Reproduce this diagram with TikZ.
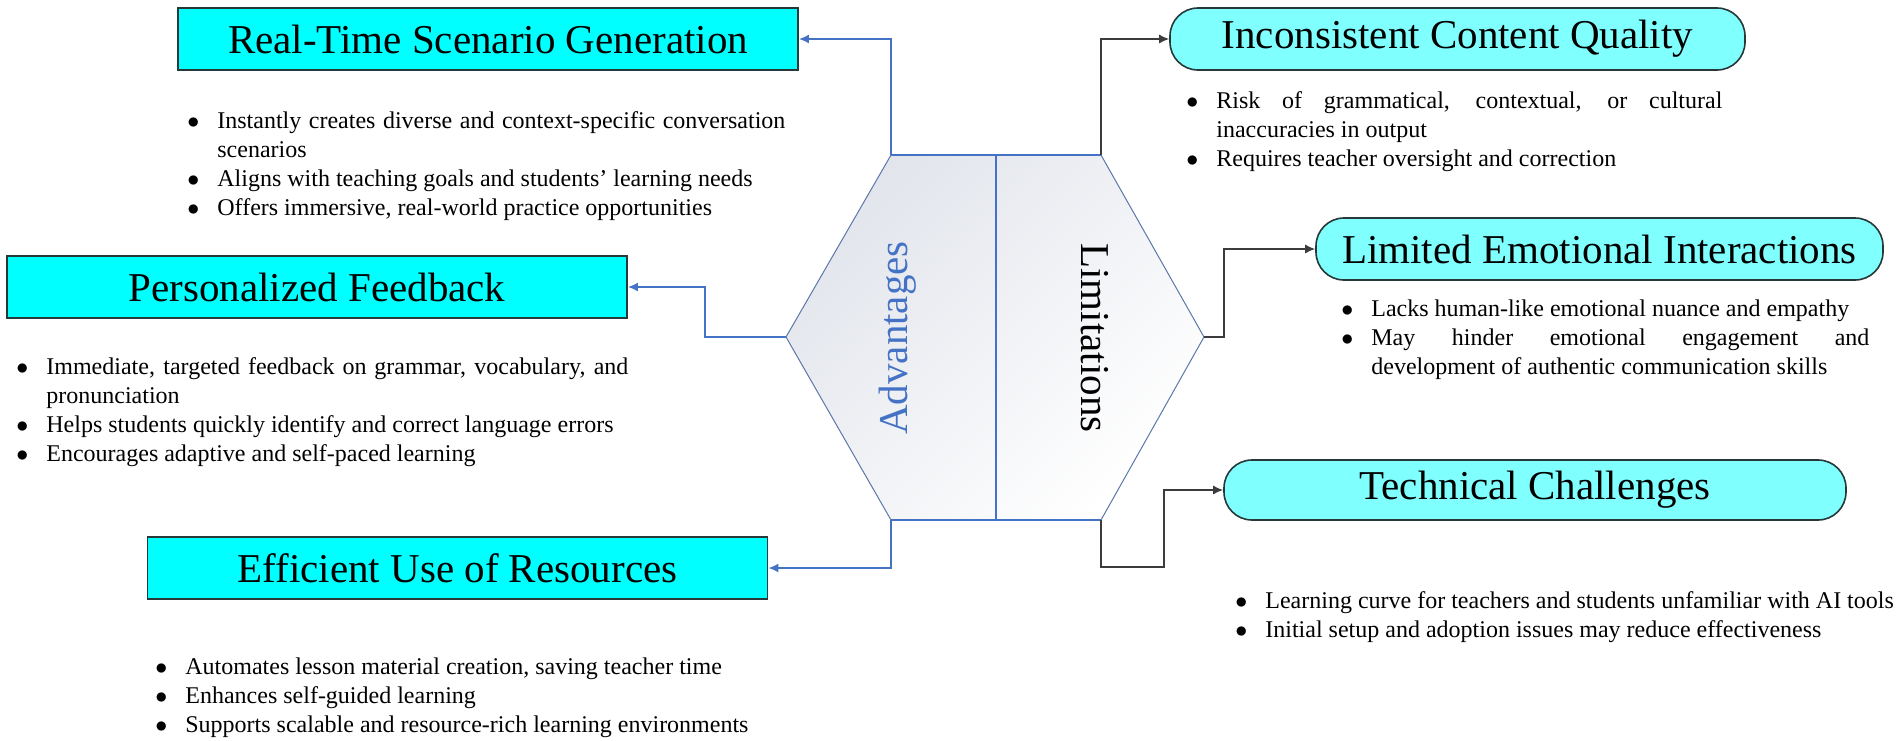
\documentclass[tikz,border=0pt]{standalone}
\usepackage{fontspec}
\setmainfont{Liberation Serif}
\usetikzlibrary{arrows.meta}
\definecolor{advfill}{RGB}{0,255,255}
\definecolor{limfill}{RGB}{128,255,255}
\definecolor{bord}{RGB}{38,56,56}
\definecolor{conb}{RGB}{68,114,196}
\definecolor{cond}{RGB}{60,60,60}
\definecolor{hexg}{RGB}{226,229,236}
\newcommand{\titlefnt}{\fontsize{20.5pt}{24pt}\selectfont}
\newcommand{\listfnt}{\fontsize{12pt}{14.5pt}\selectfont}
\newcommand{\itm}[1]{\par\noindent\hangindent=15pt\hangafter=1\makebox[15pt][l]{$\bullet$}\strut #1\par}
\tikzset{
  advbox/.style={rectangle, draw=bord, line width=0.9pt, fill=advfill,
                 minimum width=310pt, minimum height=31pt, inner sep=0pt, font=\titlefnt},
  limbox/.style={rectangle, rounded corners=14pt, draw=bord, line width=0.8pt, fill=limfill,
                 minimum height=31pt, inner sep=0pt, font=\titlefnt},
  % bullet block, #1 = text width
  blist/.style={anchor=north west, inner sep=0pt, text width=#1, align=justify, font=\listfnt},
  ar/.style={-{Latex[length=5pt,width=4.5pt]}, line width=0.9pt, draw=conb},
  arl/.style={-{Latex[length=5pt,width=4.5pt]}, line width=0.7pt, draw=cond},
  hexl/.style={draw=conb!60!gray, line width=0.5pt},
  vlbl/.style={font=\titlefnt}
}

\begin{document}
\begin{tikzpicture}[x=0.5pt, y=-0.5pt]
    \useasboundingbox (0,0) rectangle (1902,740);

    % central hexagon
    \coordinate (hTL) at (891,155);
    \coordinate (hTR) at (1101,155);
    \coordinate (hR) at (1204,337);
    \coordinate (hBR) at (1101,520);
    \coordinate (hBL) at (891,520);
    \coordinate (hL) at (786,337);
    \coordinate (dvt) at (996,155);
    \coordinate (dvb) at (996,520);
    \shade[top color=hexg, bottom color=white, shading angle=45]
      (hTL) -- (hTR) -- (hR) -- (hBR) -- (hBL) -- (hL) -- cycle;
    \draw[hexl] (hTL) -- (hTR) -- (hR) -- (hBR) -- (hBL) -- (hL) -- cycle;
    \draw[conb, line width=0.8pt] (hTL) -- (hTR) (hBL) -- (hBR);
    \draw[conb, line width=1.4pt] (dvt) -- (dvb);
    \node[vlbl, text=conb, rotate=90] (advl) at (898,338) {Advantages};
    \node[vlbl, rotate=-90] (liml) at (1095,338) {Limitations};

    % advantages
    \node[advbox] (rtbox) at (488,39) {Real-Time Scenario Generation};
    \node[blist=299pt] (rtlist) at (187,99) {%
      \itm{Instantly creates diverse and context-specific conversation scenarios}
      \itm{Aligns with teaching goals and students' learning needs}
      \itm{Offers immersive, real-world practice opportunities}};
    \node[advbox] (pfbox) at (317,287) {Personalized Feedback};
    \node[blist=306pt] (pflist) at (16,345) {%
      \itm{Immediate, targeted feedback on grammar, vocabulary, and pronunciation}
      \itm{Helps students quickly identify and correct language errors}
      \itm{Encourages adaptive and self-paced learning}};
    \node[advbox] (eubox) at (457.5,568) {Efficient Use of Resources};
    \node[blist=300pt] (eulist) at (155,645) {%
      \itm{Automates lesson material creation, saving teacher time}
      \itm{Enhances self-guided learning}
      \itm{Supports scalable and resource-rich learning environments}};

    % limitations
    \node[limbox, minimum width=287.5pt] (icbox) at (1457.5,39) {Inconsistent Content Quality};
    \node[blist=268pt] (iclist) at (1186,79) {%
      \itm{Risk of grammatical, contextual, or cultural\linebreak inaccuracies in output}
      \itm{Requires teacher oversight and correction}};
    \node[limbox, minimum width=283.5pt] (lebox) at (1599.5,249) {Limited Emotional Interactions};
    \node[blist=264pt] (lelist) at (1341,287) {%
      \itm{Lacks human-like emotional nuance and empathy}
      \itm{May hinder emotional engagement and\linebreak development of authentic communication skills}};
    \node[limbox, minimum width=311pt, minimum height=30pt] (tcbox) at (1535,490) {Technical Challenges};
    \node[blist=333pt] (tclist) at (1235,579) {%
      \itm{Learning curve for teachers and students unfamiliar with AI tools}
      \itm{Initial setup and adoption issues may reduce effectiveness}};

    % connectors
    \draw[ar] (hTL) |- (rtbox.east);
    \draw[ar] (hL) -- ++(-81,0) |- (pfbox.east);
    \draw[ar] (hBL) |- (eubox.east);
    \draw[arl] (hTR) |- (icbox.west);
    \draw[arl] (hR) -- ++(20,0) |- (lebox.west);
    \draw[arl] (hBR) |- ++(63,47) |- (tcbox.west);
\end{tikzpicture}
\end{document}
